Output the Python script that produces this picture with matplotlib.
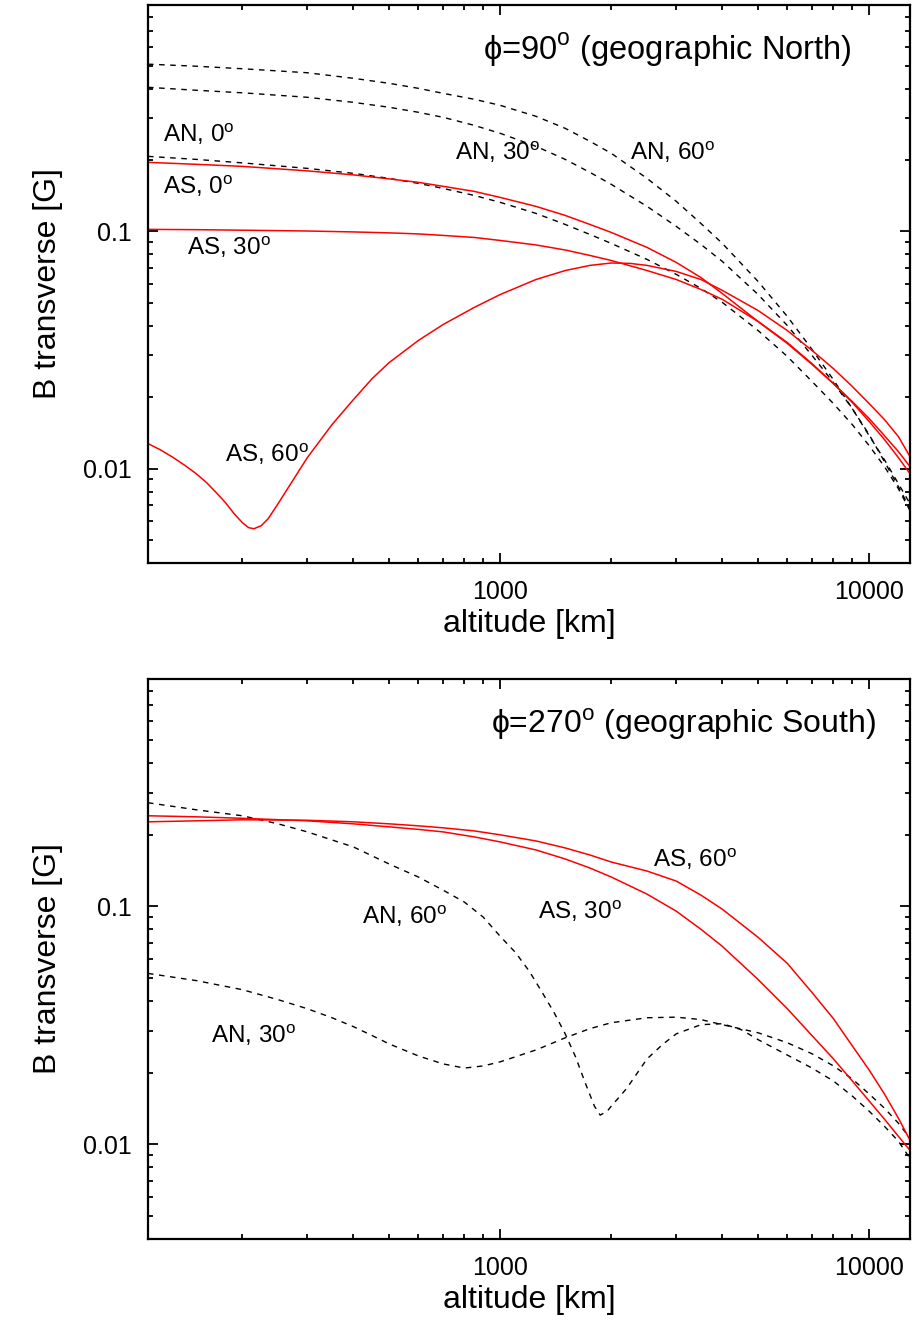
import matplotlib
matplotlib.use('Agg')
import matplotlib.pyplot as plt
from matplotlib.ticker import LogLocator, NullFormatter, FixedLocator, FixedFormatter

plt.rcParams['font.family'] = ['Liberation Sans', 'DejaVu Sans']
plt.rcParams['mathtext.fontset'] = 'custom'
plt.rcParams['mathtext.rm'] = 'Liberation Sans'

# altitude grid [km] for most curves
alt = [111, 150, 200, 300, 400, 500, 600, 700, 850, 1000, 1250, 1500, 1750, 2000, 2500,
       3000, 3500, 4000, 5000, 6000, 7000, 8000, 9000, 10000, 11000, 12000, 12900]

# phi = 90 (geographic North), B transverse [G]
north_an60 = [0.507, 0.497, 0.485, 0.4665, 0.442, 0.421, 0.401, 0.382, 0.3606, 0.340,
              0.3056, 0.272, 0.2398, 0.2134, 0.1673, 0.1339, 0.108, 0.089, 0.0615, 0.0438,
              0.0318, 0.0237, 0.0179, 0.01377, 0.0109, 0.00864, 0.00712]
north_an30 = [0.405, 0.3935, 0.384, 0.3676, 0.350, 0.3337, 0.3178, 0.3027, 0.280, 0.2591,
              0.2284, 0.2012, 0.1774, 0.1579, 0.1275, 0.1050, 0.0881, 0.0747, 0.0542, 0.0401,
              0.030, 0.02306, 0.0179, 0.0139, 0.0107, 0.0084, 0.00678]
north_an0 = [0.2072, 0.2012, 0.1945, 0.1844, 0.1757, 0.1673, 0.1594, 0.1518, 0.1418, 0.1326,
             0.1191, 0.1070, 0.0971, 0.0890, 0.0762, 0.0659, 0.0575, 0.0502, 0.0382, 0.0297,
             0.0233, 0.0188, 0.01533, 0.0125, 0.0102, 0.00823, 0.00665]
north_as0 = [0.1955, 0.1918, 0.188, 0.180, 0.1731, 0.1665, 0.161, 0.1549, 0.1475, 0.1391,
             0.1275, 0.1168, 0.1070, 0.0990, 0.0856, 0.0740, 0.0639, 0.0547, 0.0417, 0.0337,
             0.0275, 0.02284, 0.01917, 0.01626, 0.01377, 0.0118, 0.0102]
north_as30 = [0.102, 0.1017, 0.1012, 0.1004, 0.0995, 0.0986, 0.0976, 0.0962, 0.0943, 0.0916,
              0.0877, 0.0835, 0.0792, 0.0754, 0.0684, 0.0627, 0.0569, 0.0517, 0.0417, 0.0340,
              0.0277, 0.02284, 0.0190, 0.0158, 0.01326, 0.01113, 0.00952]

alt_as60 = [111, 120, 130, 140, 150, 160, 170, 180, 190, 200, 208, 215, 225, 235, 250, 275,
            300, 350, 400, 450, 500, 600, 700, 850, 1000, 1250, 1500, 1750, 2000, 2250, 2500,
            3000, 3500, 4000, 5000, 6000, 7000, 8000, 9000, 10000, 11000, 12000, 12900]
north_as60 = [0.01275, 0.0120, 0.01113, 0.0103, 0.00952, 0.00873, 0.00792, 0.00719, 0.00646,
              0.00592, 0.00564, 0.00558, 0.00575, 0.00615, 0.00712, 0.00899, 0.01113, 0.01533,
              0.01954, 0.024, 0.028, 0.0347, 0.0405, 0.0478, 0.0542, 0.0627, 0.0684, 0.0719,
              0.0736, 0.0733, 0.0719, 0.0678, 0.0627, 0.0564, 0.0464, 0.0382, 0.0315, 0.0264,
              0.0222, 0.0188, 0.0161, 0.01365, 0.01124]

# phi = 270 (geographic South)
south_as30 = [0.2398, 0.2374, 0.234, 0.2284, 0.2218, 0.2154, 0.2102, 0.2052, 0.1955, 0.1862,
              0.1723, 0.1579, 0.1447, 0.1326, 0.1124, 0.0953, 0.080, 0.0678, 0.0492, 0.0371,
              0.0286, 0.02284, 0.01844, 0.0152, 0.01275, 0.0108, 0.00943]
south_as60 = [0.2262, 0.2284, 0.2307, 0.2296, 0.2262, 0.2218, 0.2176, 0.2134, 0.2072, 0.1994,
              0.188, 0.1757, 0.1641, 0.1533, 0.1405, 0.1275, 0.1113, 0.0971, 0.0740, 0.0575,
              0.0434, 0.0337, 0.0259, 0.0205, 0.01626, 0.01287, 0.0104]

alt_an30 = [111, 150, 200, 250, 300, 350, 400, 450, 500, 600, 700, 800, 900, 1000, 1250,
            1500, 1750, 2000, 2500, 3000, 3500, 4000, 5000, 6000, 7000, 8000, 9000, 10000,
            11000, 12000, 12900]
south_an30 = [0.0522, 0.0487, 0.0446, 0.0405, 0.0371, 0.0340, 0.0312, 0.0286, 0.0264, 0.0235,
              0.02176, 0.0209, 0.02134, 0.0222, 0.0249, 0.0280, 0.0306, 0.0324, 0.0340, 0.0342,
              0.0334, 0.0318, 0.0294, 0.0267, 0.0240, 0.02134, 0.0188, 0.01626, 0.01418,
              0.01226, 0.0106]

alt_an60 = [111, 150, 200, 250, 300, 400, 500, 600, 700, 800, 900, 1000, 1100, 1200, 1300,
            1400, 1500, 1600, 1700, 1800, 1866, 1950, 2000, 2200, 2500, 2750, 3000, 3500,
            4000, 4500, 5000, 6000, 7000, 8000, 9000, 10000, 11000, 12000, 12900]
south_an60 = [0.272, 0.2541, 0.2398, 0.2218, 0.2052, 0.1774, 0.1504, 0.1326, 0.1168, 0.1040,
              0.0899, 0.0747, 0.0639, 0.0532, 0.0434, 0.0357, 0.0291, 0.0233, 0.0181, 0.01446,
              0.01326, 0.01377, 0.01446, 0.01714, 0.02284, 0.0262, 0.0291, 0.0318, 0.0321,
              0.0303, 0.0275, 0.0237, 0.0209, 0.01844, 0.01594, 0.01377, 0.0119, 0.0103,
              0.00873]

deg = r'$^{\rm o}$'
lab_fs = 17.5

fig = plt.figure(figsize=(9.13, 13.27), dpi=100)
ax1 = fig.add_axes([0.1621, 0.5757, 0.8346, 0.4205])
ax2 = fig.add_axes([0.1621, 0.0663, 0.8346, 0.4220])

dash = dict(color='black', lw=1.0, linestyle=(0, (4, 4)))
solid = dict(color='red', lw=1.1)

ax1.plot(alt, north_an60, **dash)
ax1.plot(alt, north_an30, **dash)
ax1.plot(alt, north_an0, **dash)
ax1.plot(alt, north_as0, **solid)
ax1.plot(alt, north_as30, **solid)
ax1.plot(alt_as60, north_as60, **solid)

ax2.plot(alt_an60, south_an60, **dash)
ax2.plot(alt_an30, south_an30, **dash)
ax2.plot(alt, south_as30, **solid)
ax2.plot(alt, south_as60, **solid)

ax1.text(122, 0.2374, 'AN, 0' + deg, fontsize=lab_fs)
ax1.text(122, 0.1433, 'AS, 0' + deg, fontsize=lab_fs)
ax1.text(142, 0.0792, 'AS, 30' + deg, fontsize=lab_fs)
ax1.text(755, 0.200, 'AN, 30' + deg, fontsize=lab_fs)
ax1.text(2250, 0.200, 'AN, 60' + deg, fontsize=lab_fs)
ax1.text(180, 0.0107, 'AS, 60' + deg, fontsize=lab_fs)
ax1.text(0.924, 0.903, '\u03d5=90' + deg + ' (geographic North)', fontsize=23.5,
         ha='right', transform=ax1.transAxes)

ax2.text(2598, 0.146, 'AS, 60' + deg, fontsize=lab_fs)
ax2.text(1268, 0.0881, 'AS, 30' + deg, fontsize=lab_fs)
ax2.text(423, 0.0839, 'AN, 60' + deg, fontsize=lab_fs)
ax2.text(164, 0.0267, 'AN, 30' + deg, fontsize=lab_fs)
ax2.text(0.955, 0.9036, '\u03d5=270' + deg + ' (geographic South)', fontsize=23,
         ha='right', transform=ax2.transAxes)

for ax in (ax1, ax2):
    ax.set_xscale('log')
    ax.set_yscale('log')
    ax.set_xlim(111, 12900)
    ax.set_ylim(0.004, 0.9)
    ax.xaxis.set_major_locator(FixedLocator([1000, 10000]))
    ax.xaxis.set_major_formatter(FixedFormatter(['1000', '10000']))
    ax.xaxis.set_minor_locator(LogLocator(base=10, subs=range(2, 10)))
    ax.xaxis.set_minor_formatter(NullFormatter())
    ax.yaxis.set_major_locator(FixedLocator([0.01, 0.1]))
    ax.yaxis.set_major_formatter(FixedFormatter(['0.01', '0.1']))
    ax.yaxis.set_minor_locator(LogLocator(base=10, subs=range(2, 10)))
    ax.yaxis.set_minor_formatter(NullFormatter())
    ax.tick_params(which='both', direction='in', top=True, right=True, width=1.3,
                   labelsize=18)
    ax.tick_params(which='major', length=7, pad=12)
    ax.tick_params(which='minor', length=3.5)
    for s in ax.spines.values():
        s.set_linewidth(1.6)
    ax.set_xlabel('altitude [km]', fontsize=23, labelpad=4)
    ax.set_ylabel('B transverse [G]', fontsize=23, labelpad=14)

fig.savefig('out.png', dpi=100)
